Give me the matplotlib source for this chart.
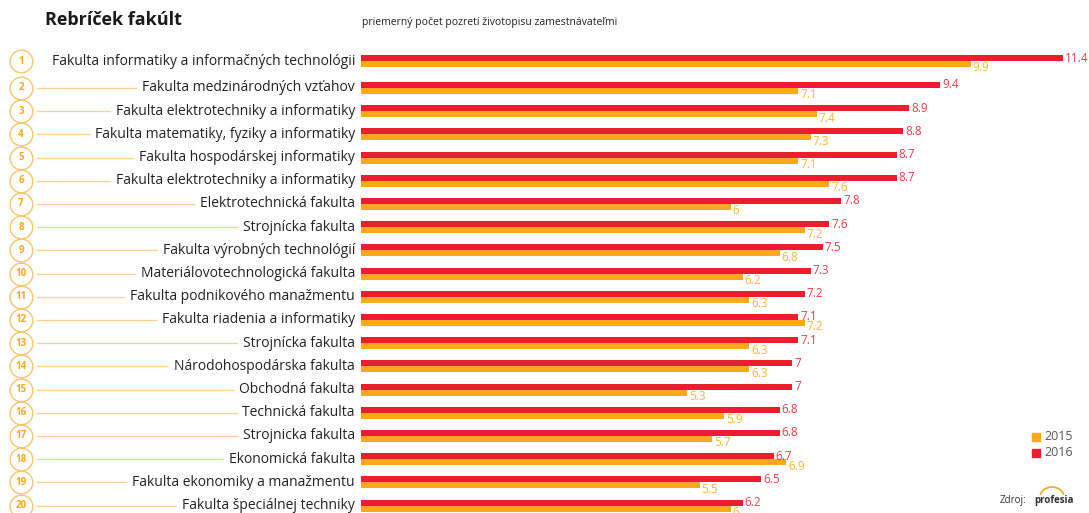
import matplotlib
matplotlib.use('Agg')
import matplotlib.pyplot as plt
from matplotlib.transforms import blended_transform_factory
from matplotlib.patches import Arc

plt.rcParams['font.family'] = ['Open Sans', 'DejaVu Sans']

# data
fakulty = ['Fakulta informatiky a informačných technológii',
           'Fakulta medzinárodných vzťahov',
           'Fakulta elektrotechniky a informatiky',
           'Fakulta matematiky, fyziky a informatiky',
           'Fakulta hospodárskej informatiky',
           'Fakulta elektrotechniky a informatiky',
           'Elektrotechnická fakulta',
           'Strojnícka fakulta',
           'Fakulta výrobných technológií',
           'Materiálovotechnologická fakulta',
           'Fakulta podnikového manažmentu',
           'Fakulta riadenia a informatiky',
           'Strojnícka fakulta',
           'Národohospodárska fakulta',
           'Obchodná fakulta',
           'Technická fakulta',
           'Strojnicka fakulta',
           'Ekonomická fakulta',
           'Fakulta ekonomiky a manažmentu',
           'Fakulta špeciálnej techniky']
v2016 = [11.4, 9.4, 8.9, 8.8, 8.7, 8.7, 7.8, 7.6, 7.5, 7.3,
         7.2, 7.1, 7.1, 7.0, 7.0, 6.8, 6.8, 6.7, 6.5, 6.2]
v2015 = [9.9, 7.1, 7.4, 7.3, 7.1, 7.6, 6.0, 7.2, 6.8, 6.2,
         6.3, 7.2, 6.3, 6.3, 5.3, 5.9, 5.7, 6.9, 5.5, 6.0]
poradie = [str(i + 1) for i in range(len(fakulty))]

RED = '#ED1C2E'
ORANGE = '#FBA81C'
RED_TXT = '#EC3B4A'
ORANGE_TXT = '#FBB733'
CIRCLE = '#FBC469'
LINE = '#FCD08A'

W, H = 1089, 513
fig = plt.figure(figsize=(W / 100, H / 100), dpi=100)
ax = fig.add_axes([361 / W, 0, 1 - 361 / W, 1])
ax.set_xlim(0, 728 / 61.6)
ax.set_ylim(19.32, -2.79)
ax.axis('off')

pos = [i if i > 0 else -0.16 for i in range(len(fakulty))]
h = 0.26

ax.barh([p - h for p in pos], v2016, height=h, align='edge', color=RED)
ax.barh(pos, v2015, height=h, align='edge', color=ORANGE)

def fmt(v):
    return ('%g' % v)

for p, a, b in zip(pos, v2016, v2015):
    ax.text(a + 0.03, p - h / 2, fmt(a), color=RED_TXT, fontsize=8.5,
            va='center', ha='left', clip_on=False)
    ax.text(b + 0.03, p + h + 0.04, fmt(b), color=ORANGE_TXT, fontsize=8.5,
            va='center', ha='left', clip_on=False)

# labels on the left
tr = blended_transform_factory(fig.transFigure, ax.transData)
labels = []
for p, name in zip(pos, fakulty):
    t = ax.text(355 / W, p, name, transform=tr, ha='right', va='center',
                fontsize=10, color='#222222')
    labels.append(t)

ax.scatter([21 / W] * len(pos), pos, s=265, transform=tr, facecolor='white',
           edgecolor=CIRCLE, linewidth=1.0, clip_on=False, zorder=3)
for p, n in zip(pos, poradie):
    ax.text(21 / W, p, n, transform=tr, ha='center', va='center', fontsize=7,
            fontweight='bold', color=ORANGE, zorder=4)

fig.canvas.draw()
rend = fig.canvas.get_renderer()
for p, t in zip(pos, labels):
    x0 = t.get_window_extent(rend).x0
    if x0 - 6 > 50:
        ax.plot([37 / W, (x0 - 6) / W], [p, p], transform=tr, color=LINE,
                lw=0.9, clip_on=False)

# title and subtitle
fig.text(45 / W, 1 - 20 / H, 'Rebríček fakúlt', fontsize=13, fontweight='bold',
         color='#1a1a1a', va='center', ha='left')
fig.text(362 / W, 1 - 22 / H, 'priemerný počet pozretí životopisu zamestnávateľmi',
         fontsize=7.5, color='#222222', va='center', ha='left')

# legend
for yy, c, lab in [(437, ORANGE, '2015'), (453, RED, '2016')]:
    fig.patches.append(plt.Rectangle((1032 / W, 1 - (yy + 4) / H), 8 / W, 8 / H,
                                     transform=fig.transFigure, color=c))
    fig.text(1044 / W, 1 - yy / H, lab, fontsize=9, color='#555555',
             va='center', ha='left')

# source
fig.text(1000 / W, 1 - 500 / H, 'Zdroj:', fontsize=7, color='#333333',
         va='center', ha='left')
fig.text(1034 / W, 1 - 500 / H, 'profesia', fontsize=7, fontweight='bold',
         color='#333333', va='center', ha='left')
fig.patches.append(Arc((1052 / W, 1 - 497 / H), 24 / W, 20 / H, theta1=20, theta2=160,
                       transform=fig.transFigure, color=ORANGE, lw=1.2))

fig.savefig('out.png', dpi=100)
